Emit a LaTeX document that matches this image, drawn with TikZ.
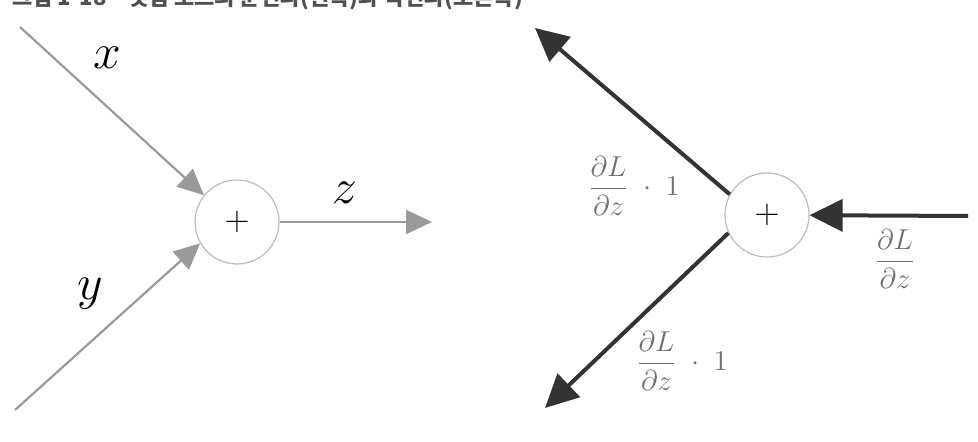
\documentclass[tikz,border=0pt]{standalone}
\usepackage{amsmath}
\usepackage{fontspec}
\newfontfamily\cjk{Noto Sans CJK KR}
\usetikzlibrary{arrows.meta}
\definecolor{fwd}{HTML}{9A9A9A}
\definecolor{ring}{HTML}{BDBDBD}
\definecolor{bwd}{HTML}{333333}
\definecolor{lbl}{HTML}{6E6E6E}
\definecolor{cap}{HTML}{505050}
\begin{document}
\begin{tikzpicture}[x=0.5pt,y=-0.5pt,
  opnode/.style={circle,draw=ring,line width=0.6pt,minimum size=42pt,inner sep=0pt,font=\fontsize{17}{20}\selectfont},
  fwdline/.style={draw=fwd,line width=1.1pt,-{Triangle[length=13pt,width=12pt]},color=fwd},
  bwdline/.style={draw=bwd,line width=2pt,-{Triangle[length=16.5pt,width=16pt]},color=bwd},
  varlbl/.style={font=\fontsize{24}{28}\selectfont,inner sep=0pt},
  gradlbl/.style={text=lbl,font=\fontsize{14}{17}\selectfont,inner sep=0pt},
  caption/.style={text=cap,font=\cjk\bfseries\fontsize{11}{13}\selectfont,inner sep=0pt,anchor=base west}]
\useasboundingbox (0,0) rectangle (978,442);
\clip (0,0) rectangle (978,442);
\fill[white] (0,0) rectangle (978,442);
% caption (cut off at the top)
\node[caption] (cap) at (12,6) {그림 1-18\quad 덧셈 노드의 순전파(왼쪽)과 역전파(오른쪽)};
% forward pass
\node[opnode] (pl) at (237,222) {$+$};
\coordinate (xs) at (20,27);
\coordinate (ys) at (15,410);
\coordinate (ze) at (432,222);
\draw[fwdline] (xs) -- (pl.141);
\draw[fwdline] (ys) -- (pl.210);
\draw[fwdline] (pl) -- (ze);
\node[varlbl] (lx) at (107,58) {$x$};
\node[varlbl] (ly) at (90,294) {$y$};
\node[varlbl] (lz) at (345,193) {$z$};
% backward pass
\node[opnode] (pr) at (767,215) {$+$};
\coordinate (gs) at (968,216);
\coordinate (ue) at (535,28);
\coordinate (le) at (545,408);
\draw[bwdline] (gs) -- (pr);
\draw[bwdline] (pr.151) -- (ue);
\draw[bwdline] (pr.205) -- (le);
\node[gradlbl] (gu) at (634,186) {$\dfrac{\partial L}{\partial z}\;\cdot\; 1$};
\node[gradlbl] (gl) at (682,361) {$\dfrac{\partial L}{\partial z}\;\cdot\; 1$};
\node[gradlbl] (gr) at (895,259) {$\dfrac{\partial L}{\partial z}$};
\end{tikzpicture}
\end{document}
